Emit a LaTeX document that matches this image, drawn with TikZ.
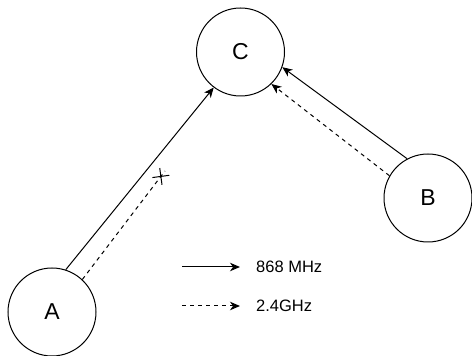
\documentclass[tikz,border=0pt]{standalone}
\usepackage{fontspec}
\setmainfont{Liberation Sans}
\usepackage{tikz}
\usetikzlibrary{positioning,arrows.meta,shapes.misc}
\tikzset{
  station/.style={
    circle,
    draw,
    line width=1pt,
    minimum size=88pt,
    inner sep=0pt,
    font=\fontsize{23}{27}\selectfont
  },
  link/.style={
    -{Stealth[length=10pt,width=8.5pt,inset=3pt]},
    line width=1pt
  },
  wifi/.style={
    link,
    dash pattern=on 4pt off 4pt
  },
  lost mark/.style={
    cross out,
    draw,
    solid,
    line width=1pt,
    minimum size=11pt,
    inner sep=0pt,
    sloped
  },
  legend/.style={
    inner sep=0pt,
    font=\fontsize{16.5}{19}\selectfont
  }
}
\begin{document}
\begin{tikzpicture}[x=10pt, y=10pt]

  \useasboundingbox (0,0) rectangle (47.2,35.6);

  % Stations
  \node[station] (c) at (24.05,30.4) {C};
  \node[station] (a) at (5.2,4.4) {A};
  \node[station] (b) at (42.8,15.8) {B};

  % Lost packet
  \coordinate (lost) at (16.5,18.5);

  % Links
  \draw[link] (a.72) -- (c.233);
  \draw[wifi, -] (a.47) -- node[lost mark, pos=0.95] (x) {} (lost);
  \draw[link] (b.118) -- (c.340);
  \draw[wifi] (b.150) -- (c.314);

  % Legend
  \coordinate (lg1) at (18.2,8.9);
  \coordinate[right=58pt of lg1] (lg1e);
  \node[legend, right=16pt of lg1e] (t868) {868 MHz};
  \coordinate (lg2) at (18.2,5.0);
  \coordinate[right=58pt of lg2] (lg2e);
  \node[legend, right=16pt of lg2e] (t24) {2.4GHz};
  \draw[link] (lg1) -- (lg1e);
  \draw[wifi] (lg2) -- (lg2e);

\end{tikzpicture}
\end{document}
